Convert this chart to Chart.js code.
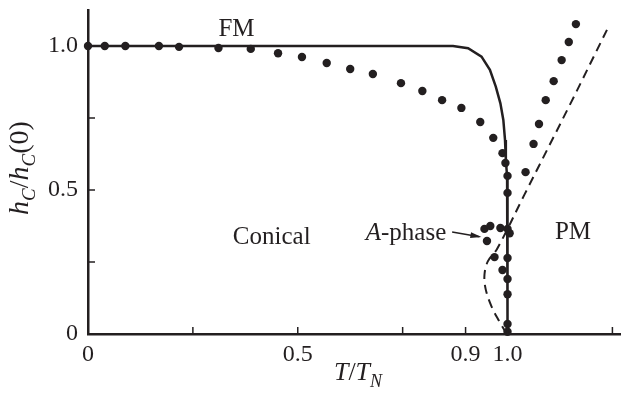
<!DOCTYPE html>
<html>
<head>
<meta charset="utf-8">
<script src="https://cdn.jsdelivr.net/npm/chart.js@4.4.1/dist/chart.umd.min.js"></script>
<style>
  html, body { margin: 0; padding: 0; background: #fff; }
</style>
</head>
<body>
<canvas id="chart" width="625" height="399"></canvas>
<script>
// axis ticks (only some of them carry a label)
const xTicks = [0, 0.25, 0.5, 0.75, 0.9, 1.0, 1.25];
const xTickLabels = ['0', '', '0.5', '', '0.9', '1.0', ''];
const yTicks = [0, 0.25, 0.5, 0.75, 1.0];
const yTickLabels = ['0', '', '0.5', '', '1.0'];

// measured points, T/T_N vs hC/hC(0)
const dotT = [0.0, 0.04, 0.089, 0.169, 0.217, 0.311, 0.388, 0.453, 0.51, 0.569, 0.625, 0.679,
  0.746, 0.797, 0.844, 0.89, 0.935, 0.966, 0.988, 0.995, 1.0, 1.0,
  1.043, 1.062, 1.075, 1.091, 1.110, 1.129, 1.146, 1.163,
  0.945, 0.959, 0.983, 1.0, 1.005, 0.951, 0.969, 0.988,
  1.0, 1.0, 1.0, 1.0, 1.0];
const dotH = [1.0, 1.0, 1.0, 1.0, 0.997, 0.993, 0.99, 0.975, 0.962, 0.941, 0.92, 0.903,
  0.871, 0.844, 0.812, 0.785, 0.736, 0.681, 0.628, 0.594, 0.549, 0.49,
  0.562, 0.66, 0.729, 0.812, 0.878, 0.951, 1.014, 1.076,
  0.365, 0.375, 0.368, 0.365, 0.35, 0.323, 0.267, 0.222,
  0.264, 0.191, 0.138, 0.035, 0.008];

// solid boundary (FM / conical / PM)
const solidT = [0, 0.87, 0.906, 0.938, 0.958, 0.972, 0.983, 0.99, 0.994, 0.996, 0.999, 1.0, 1.0];
const solidH = [1.0, 1.0, 0.992, 0.963, 0.917, 0.859, 0.801, 0.743, 0.674, 0.604, 0.546, 0.488, 0.0];

// dashed boundary
const dashT = [0.998, 0.98, 0.962, 0.948, 0.945, 0.953, 0.975, 1.04, 1.15, 1.237];
const dashH = [0.0, 0.045, 0.095, 0.155, 0.205, 0.252, 0.295, 0.483, 0.80, 1.056];

const regionText = ['FM', 'Conical', 'PM'];
const regionT = [0.354, 0.438, 1.156];
const regionH = [1.056, 0.337, 0.354];

const ink = '#231f20';
const serif = "'Liberation Serif', 'Times New Roman', serif";
const toXY = (xs, ys) => xs.map((x, i) => ({ x: x, y: ys[i] }));

// draws a run of text pieces (italic / subscript) starting at x
function drawRich(ctx, parts, x, y, align, size) {
  size = size || 25;
  const sub = Math.round(size * 0.68);
  const fontOf = p => (p.italic ? 'italic ' : '') + (p.sub ? sub : size) + 'px ' + serif;
  let total = 0;
  parts.forEach(p => { ctx.font = fontOf(p); total += ctx.measureText(p.t).width; });
  let cx = align === 'center' ? x - total / 2 : align === 'right' ? x - total : x;
  ctx.textAlign = 'left';
  ctx.textBaseline = 'alphabetic';
  parts.forEach(p => {
    ctx.font = fontOf(p);
    ctx.fillText(p.t, cx, y + (p.sub ? size * 0.25 : 0));
    cx += ctx.measureText(p.t).width;
  });
}

const decorations = {
  id: 'decorations',
  afterDraw(chart) {
    const { ctx, chartArea, scales } = chart;
    const xs = scales.x, ys = scales.y;
    ctx.save();
    ctx.strokeStyle = ink;
    ctx.fillStyle = ink;
    ctx.lineWidth = 1.5;

    // inward tick marks
    xTicks.forEach(v => {
      if (v === 0) return;
      const px = xs.getPixelForValue(v);
      ctx.beginPath();
      ctx.moveTo(px, chartArea.bottom);
      ctx.lineTo(px, chartArea.bottom - 7);
      ctx.stroke();
    });
    yTicks.forEach(v => {
      if (v === 0) return;
      const py = ys.getPixelForValue(v);
      ctx.beginPath();
      ctx.moveTo(chartArea.left, py);
      ctx.lineTo(chartArea.left + 7, py);
      ctx.stroke();
    });

    // region names
    ctx.font = '25px ' + serif;
    ctx.textAlign = 'center';
    ctx.textBaseline = 'middle';
    regionText.forEach((t, i) => {
      ctx.fillText(t, xs.getPixelForValue(regionT[i]), ys.getPixelForValue(regionH[i]));
    });

    // A-phase label with arrow
    const ax = xs.getPixelForValue(0.854), ay = ys.getPixelForValue(0.354);
    drawRich(ctx, [{ t: 'A', italic: true }, { t: '-phase' }], ax, ay + 8, 'right');
    const x0 = xs.getPixelForValue(0.868), y0 = ys.getPixelForValue(0.354);
    const x1 = xs.getPixelForValue(0.933), y1 = ys.getPixelForValue(0.338);
    ctx.lineWidth = 1.5;
    ctx.beginPath();
    ctx.moveTo(x0, y0);
    ctx.lineTo(x1, y1);
    ctx.stroke();
    const ang = Math.atan2(y1 - y0, x1 - x0);
    ctx.beginPath();
    ctx.moveTo(x1 + 2, y1 + 2 * Math.tan(ang));
    ctx.lineTo(x1 - 9 * Math.cos(ang) + 3 * Math.sin(ang), y1 - 9 * Math.sin(ang) - 3 * Math.cos(ang));
    ctx.lineTo(x1 - 9 * Math.cos(ang) - 3 * Math.sin(ang), y1 - 9 * Math.sin(ang) + 3 * Math.cos(ang));
    ctx.closePath();
    ctx.fill();

    // axis titles
    drawRich(ctx, [{ t: 'T', italic: true }, { t: '/' }, { t: 'T', italic: true }, { t: 'N', italic: true, sub: true }],
      358, chartArea.bottom + 46, 'center', 26);
    ctx.translate(28, 168);
    ctx.rotate(-Math.PI / 2);
    drawRich(ctx, [{ t: 'h', italic: true }, { t: 'C', italic: true, sub: true }, { t: '/' },
      { t: 'h', italic: true }, { t: 'C', italic: true, sub: true }, { t: '(0)' }], 0, 0, 'center', 28);
    ctx.restore();
  }
};

new Chart(document.getElementById('chart'), {
  type: 'scatter',
  data: {
    datasets: [
      { data: toXY(solidT, solidH), showLine: true, borderColor: ink, borderWidth: 2.5,
        pointRadius: 0, tension: 0, clip: false },
      { data: toXY(dashT, dashH), showLine: true, borderColor: ink, borderWidth: 2,
        borderDash: [9, 6], pointRadius: 0, tension: 0.35, clip: false },
      { data: toXY(dotT, dotH), showLine: false, pointRadius: 4.2, backgroundColor: ink,
        borderWidth: 0, clip: false }
    ]
  },
  options: {
    responsive: false,
    animation: false,
    layout: { padding: { top: 10, right: 0, left: 0, bottom: 0 } },
    plugins: { legend: { display: false }, tooltip: { enabled: false } },
    scales: {
      x: {
        type: 'linear', min: 0, max: 1.27,
        afterBuildTicks: s => { s.ticks = xTicks.map(v => ({ value: v })); },
        afterFit: s => { s.height = 65; s.paddingLeft = 0; s.paddingRight = 0; },
        ticks: { callback: (v, i) => xTickLabels[i], autoSkip: false, maxRotation: 0,
          font: { family: serif, size: 24 }, color: ink, padding: 6 },
        grid: { display: false, drawTicks: false },
        border: { display: true, color: ink, width: 2.5 }
      },
      y: {
        type: 'linear', min: 0, max: 1.125,
        afterBuildTicks: s => { s.ticks = yTicks.map(v => ({ value: v })); },
        afterFit: s => { s.width = 88; s.paddingTop = 0; s.paddingBottom = 0; },
        ticks: { callback: (v, i) => yTickLabels[i], autoSkip: false,
          font: { family: serif, size: 24 }, color: ink, padding: 10 },
        grid: { display: false, drawTicks: false },
        border: { display: true, color: ink, width: 2.5 }
      }
    }
  },
  plugins: [decorations]
});
</script>
</body>
</html>
